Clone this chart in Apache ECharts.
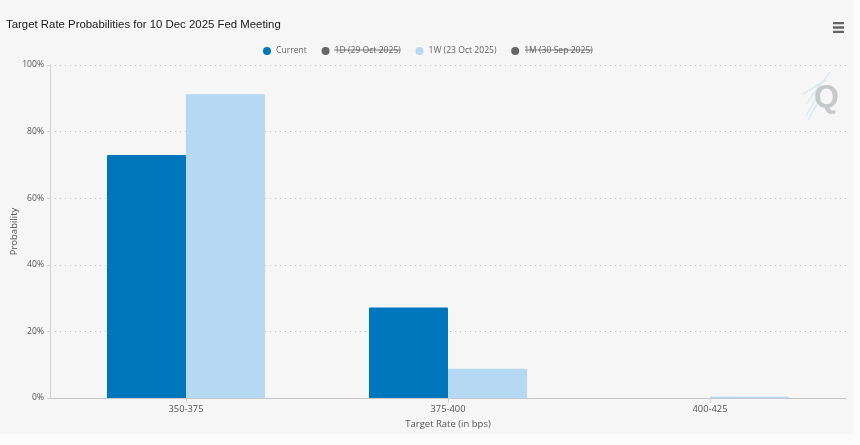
<!DOCTYPE html>
<html>
<head>
<meta charset="utf-8">
<style>
    html, body { margin: 0; padding: 0; background: #fbfbfb; }
    #chart { width: 853px; height: 434px; }
</style>
<script src="https://cdn.jsdelivr.net/npm/echarts@6/dist/echarts.min.js"></script>
</head>
<body>
<div id="chart"></div>
<script>
const categories = ["350-375", "375-400", "400-425"]
const currentValues = [73, 27.2, 0]
const weekAgoValues = [91.2, 8.8, 0.4]
const dayAgoValues = []
const monthAgoValues = []
const legendNames = ["Current", "1D (29 Oct 2025)", "1W (23 Oct 2025)", "1M (30 Sep 2025)"]
const yTicks = [0, 20, 40, 60, 80, 100]

const chart = echarts.init(document.getElementById("chart"))
const labelFont = "'Open Sans', sans-serif"
const yMin = yTicks[0]
const yMax = yTicks[yTicks.length - 1]

function streak(x1, y1, x2, y2) {
    return {
        type: "line",
        silent: true,
        shape: { x1, y1, x2, y2 },
        style: { stroke: "#d8ebee", lineWidth: 1.5 },
    }
}

function barSeries(name, data, color) {
    return {
        name,
        type: "bar",
        data,
        xAxisIndex: 1,
        yAxisIndex: 1,
        barWidth: 79,
        barGap: 0,
        itemStyle: { color, borderRadius: [1, 1, 0, 0] },
    }
}

const option = {
    backgroundColor: "#f6f6f6",
    animation: false,
    title: {
        text: "Target Rate Probabilities for 10 Dec 2025 Fed Meeting",
        left: 1,
        top: 14,
        textStyle: { fontFamily: "'Liberation Sans', Arial, sans-serif", fontSize: 11.4, fontWeight: "normal", color: "#1a1a1a" },
    },
    toolbox: {
        right: -6,
        top: 7,
        itemSize: 11,
        feature: {
            myMenu: {
                show: true,
                title: "Menu",
                icon: "path://M0 0H14V3H0ZM0 5.5H14V8.5H0ZM0 11H14V14H0Z",
                iconStyle: { color: "#666", borderWidth: 0 },
                onclick: function () {},
            },
        },
    },
    legend: {
        top: 41.5,
        left: 258,
        icon: "circle",
        itemWidth: 8,
        itemHeight: 8,
        itemGap: 14.7,
        inactiveColor: "#666",
        data: legendNames,
        selected: { [legendNames[1]]: false, [legendNames[3]]: false },
        textStyle: { fontFamily: labelFont, fontSize: 8.6, color: "#666" },
    },
    // grid 0 carries the frame and gridlines, grid 1 is inset so the bands sit like the original
    grid: [
        { left: 50, right: 7, top: 65, bottom: 36, outerBoundsMode: "none" },
        { left: 55, right: 12, top: 65, bottom: 36, outerBoundsMode: "none" },
    ],
    xAxis: [
        {
            type: "category",
            gridIndex: 0,
            data: categories,
            axisLine: { lineStyle: { color: "#c4c8cc", width: 1 } },
            axisTick: { show: false },
            axisLabel: { show: false },
        },
        {
            type: "category",
            gridIndex: 1,
            data: categories,
            name: "Target Rate (in bps)",
            nameLocation: "middle",
            nameGap: 19,
            nameTextStyle: { fontFamily: labelFont, fontSize: 9.5, color: "#555" },
            axisLine: { show: false },
            axisTick: { show: true, alignWithLabel: true, length: 5, lineStyle: { color: "#d0d0d0" } },
            axisLabel: { fontFamily: labelFont, fontSize: 9.3, color: "#555", margin: 7 },
        },
    ],
    yAxis: [
        {
            type: "value",
            gridIndex: 0,
            min: yMin,
            max: yMax,
            interval: yTicks[1] - yTicks[0],
            name: "Probability",
            nameLocation: "middle",
            nameGap: 31,
            nameMoveOverlap: false,
            nameTextStyle: { fontFamily: labelFont, fontSize: 9.5, color: "#555" },
            axisLine: { show: true, lineStyle: { color: "#d0d0d0", width: 1 } },
            axisTick: { show: true, length: 3, lineStyle: { color: "#d0d0d0" } },
            axisLabel: { formatter: "{value}%", fontFamily: labelFont, fontSize: 8.6, color: "#555", margin: 6 },
            splitLine: { lineStyle: { type: [1, 4], color: "#c4c4c4", width: 1 } },
        },
        { type: "value", gridIndex: 1, min: yMin, max: yMax, show: false },
    ],
    series: [
        barSeries(legendNames[0], currentValues, "#0077bc"),
        barSeries(legendNames[1], dayAgoValues, "#666"),
        barSeries(legendNames[2], weekAgoValues, "#b5d9f2"),
        barSeries(legendNames[3], monthAgoValues, "#666"),
    ],
    graphic: [
        // struck-through legend entries
        { type: "line", silent: true, shape: { x1: 334, y1: 50, x2: 400, y2: 50 }, style: { stroke: "#555", lineWidth: 0.8 } },
        { type: "line", silent: true, shape: { x1: 525, y1: 50, x2: 592, y2: 50 }, style: { stroke: "#555", lineWidth: 0.8 } },
        // logo watermark
        streak(830, 72, 806, 104),
        streak(826, 80, 803, 94),
        streak(822, 88, 806, 116),
        streak(818, 102, 808, 120),
        {
            type: "text",
            silent: true,
            left: 814,
            top: 82,
            style: { text: "Q", fontFamily: "'Liberation Sans', Arial, sans-serif", fontWeight: "bold", fontSize: 32, fill: "#c6c8ca" },
        },
    ],
}

chart.setOption(option)
</script>
</body>
</html>
